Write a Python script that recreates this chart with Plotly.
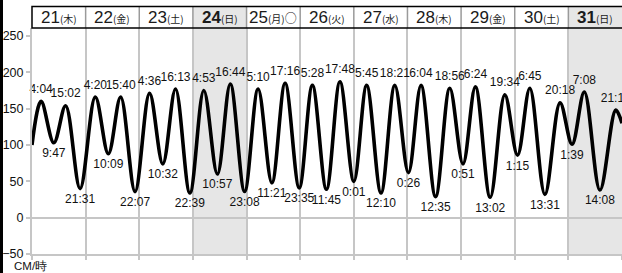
import plotly.graph_objects as go

# ---- data ----
days = [21, 22, 23, 24, 25, 26, 27, 28, 29, 30, 31]
weekdays = ["木", "金", "土", "日", "月", "火", "水", "木", "金", "土", "日"]
day_marks = ["", "", "", "", "○", "", "", "", "", "", ""]
holidays = [24, 31]

# extreme tides: day, time label, height (cm), kind (H/L)
tide_days = [21, 21, 21, 21,
             22, 22, 22, 22,
             23, 23, 23, 23,
             24, 24, 24, 24,
             25, 25, 25, 25,
             26, 26, 26,
             27, 27, 27, 27,
             28, 28, 28, 28,
             29, 29, 29, 29,
             30, 30, 30, 30,
             31, 31, 31, 31]
tide_times = ["4:04", "9:47", "15:02", "21:31",
              "4:20", "10:09", "15:40", "22:07",
              "4:36", "10:32", "16:13", "22:39",
              "4:53", "10:57", "16:44", "23:08",
              "5:10", "11:21", "17:16", "23:35",
              "5:28", "11:45", "17:48",
              "0:01", "5:45", "12:10", "18:21",
              "0:26", "6:04", "12:35", "18:56",
              "0:51", "6:24", "13:02", "19:34",
              "1:15", "6:45", "13:31", "20:18",
              "1:39", "7:08", "14:08", "21:12"]
tide_heights = [160, 103, 154, 40,
                166, 88, 166, 36,
                171, 74, 177, 34,
                175, 60, 184, 36,
                177, 48, 185, 41,
                182, 39, 187,
                50, 182, 34, 182,
                62, 182, 29, 178,
                74, 180, 28, 169,
                86, 178, 32, 158,
                101, 173, 38, 148]
tide_kinds = ["H", "L", "H", "L",
              "H", "L", "H", "L",
              "H", "L", "H", "L",
              "H", "L", "H", "L",
              "H", "L", "H", "L",
              "H", "L", "H",
              "L", "H", "L", "H",
              "L", "H", "L", "H",
              "L", "H", "L", "H",
              "L", "H", "L", "H",
              "L", "H", "L", "H"]

# curve level at the left and right edges of the chart
edge_start = 100
edge_end = 130

y_ticks = [-50, 0, 50, 100, 150, 200, 250]
y_unit = "CM/時"

# ---- helpers ----
def hours(day, t):
    h, m = t.split(":")
    return (day - days[0]) * 24 + int(h) + int(m) / 60.0

n_days = len(days)
x_end = n_days * 24
tx = [hours(d, t) for d, t in zip(tide_days, tide_times)]

line_x = [0] + tx + [x_end]
line_y = [edge_start] + tide_heights + [edge_end]

FONT = "Liberation Sans, Arial, sans-serif"
CJK = "Noto Sans CJK JP"
GRID = "#c6c6c6"

W, H = 622, 273
ML, MR, MT, MB = 32, 0, 28, 19
PW = W - ML - MR
PH = H - MT - MB

def px_x(p):
    return (p - ML) / PW

def px_y(p):
    return (H - MB - p) / PH

fig = go.Figure()

fig.add_trace(go.Scatter(
    x=line_x, y=line_y, mode="lines",
    line=dict(color="black", width=3.6, shape="spline", smoothing=1.0),
    hoverinfo="skip", showlegend=False, cliponaxis=True,
))

fig.add_trace(go.Scatter(
    x=tx, y=tide_heights, mode="markers+text",
    text=tide_times,
    textposition=["top center" if k == "H" else "bottom center" for k in tide_kinds],
    textfont=dict(family=FONT, size=12, color="#111"),
    marker=dict(size=7, color="rgba(0,0,0,0)"),
    hoverinfo="skip", showlegend=False, cliponaxis=False,
))

shapes = []
header_top = px_y(6.5)
for i, d in enumerate(days):
    if d in holidays:
        shapes.append(dict(type="rect", xref="paper", yref="paper",
                           x0=i / n_days, x1=(i + 1) / n_days, y0=0, y1=header_top,
                           fillcolor="#e6e6e6", line=dict(width=0), layer="below"))
for i in range(1, n_days):
    shapes.append(dict(type="line", xref="paper", yref="paper",
                       x0=i / n_days, x1=i / n_days, y0=1, y1=header_top,
                       line=dict(color="#9a9a9a", width=1.5)))
shapes.append(dict(type="rect", xref="paper", yref="paper",
                   x0=0, x1=1.01, y0=1, y1=header_top,
                   line=dict(color="black", width=1.5), fillcolor="rgba(0,0,0,0)"))
shapes.append(dict(type="line", xref="paper", yref="paper",
                   x0=px_x(1.5), x1=px_x(1.5), y0=px_y(H + 2), y1=px_y(-2),
                   line=dict(color="black", width=3)))

annotations = []
for i, (d, w, mk) in enumerate(zip(days, weekdays, day_marks)):
    num = f"<b>{d}</b>" if d in holidays else f"{d}"
    txt = (num + f"<span style='font-size:10px;font-family:{CJK}'>({w})</span>"
           + (f"<span style='font-size:12px;font-family:{CJK}'>{mk}</span>" if mk else ""))
    annotations.append(dict(xref="paper", yref="paper", x=(i + 0.5) / n_days,
                            y=px_y(17.5), text=txt, showarrow=False,
                            xanchor="center", yanchor="middle",
                            font=dict(family=FONT, size=17, color="#1a1a1a")))
annotations.append(dict(xref="paper", yref="paper", x=px_x(12), y=px_y(266),
                        text=y_unit, showarrow=False, xanchor="left", yanchor="middle",
                        font=dict(family=FONT, size=11.5, color="#111")))

fig.update_layout(
    width=W, height=H, autosize=False,
    margin=dict(l=ML, r=MR, t=MT, b=MB, pad=0),
    paper_bgcolor="white", plot_bgcolor="rgba(0,0,0,0)",
    shapes=shapes, annotations=annotations,
    xaxis=dict(range=[0, x_end], tickvals=[24 * i for i in range(n_days + 1)],
               showticklabels=False, showgrid=True, gridcolor=GRID, gridwidth=2,
               ticks="outside", ticklen=4, tickcolor=GRID, tickwidth=2,
               showline=True, linecolor=GRID, linewidth=2, zeroline=False,
               fixedrange=True),
    yaxis=dict(range=[-50, 261], tickvals=y_ticks, showgrid=False,
               zeroline=True, zerolinecolor=GRID, zerolinewidth=2,
               showline=True, linecolor=GRID, linewidth=2,
               ticks="outside", ticklen=4, tickcolor=GRID, tickwidth=1.5,
               tickfont=dict(family=FONT, size=12.5, color="#111"),
               fixedrange=True),
)

fig.write_html("out.html", config={"displayModeBar": False},
               post_script="document.body.style.margin='0';document.body.style.overflow='hidden';")
